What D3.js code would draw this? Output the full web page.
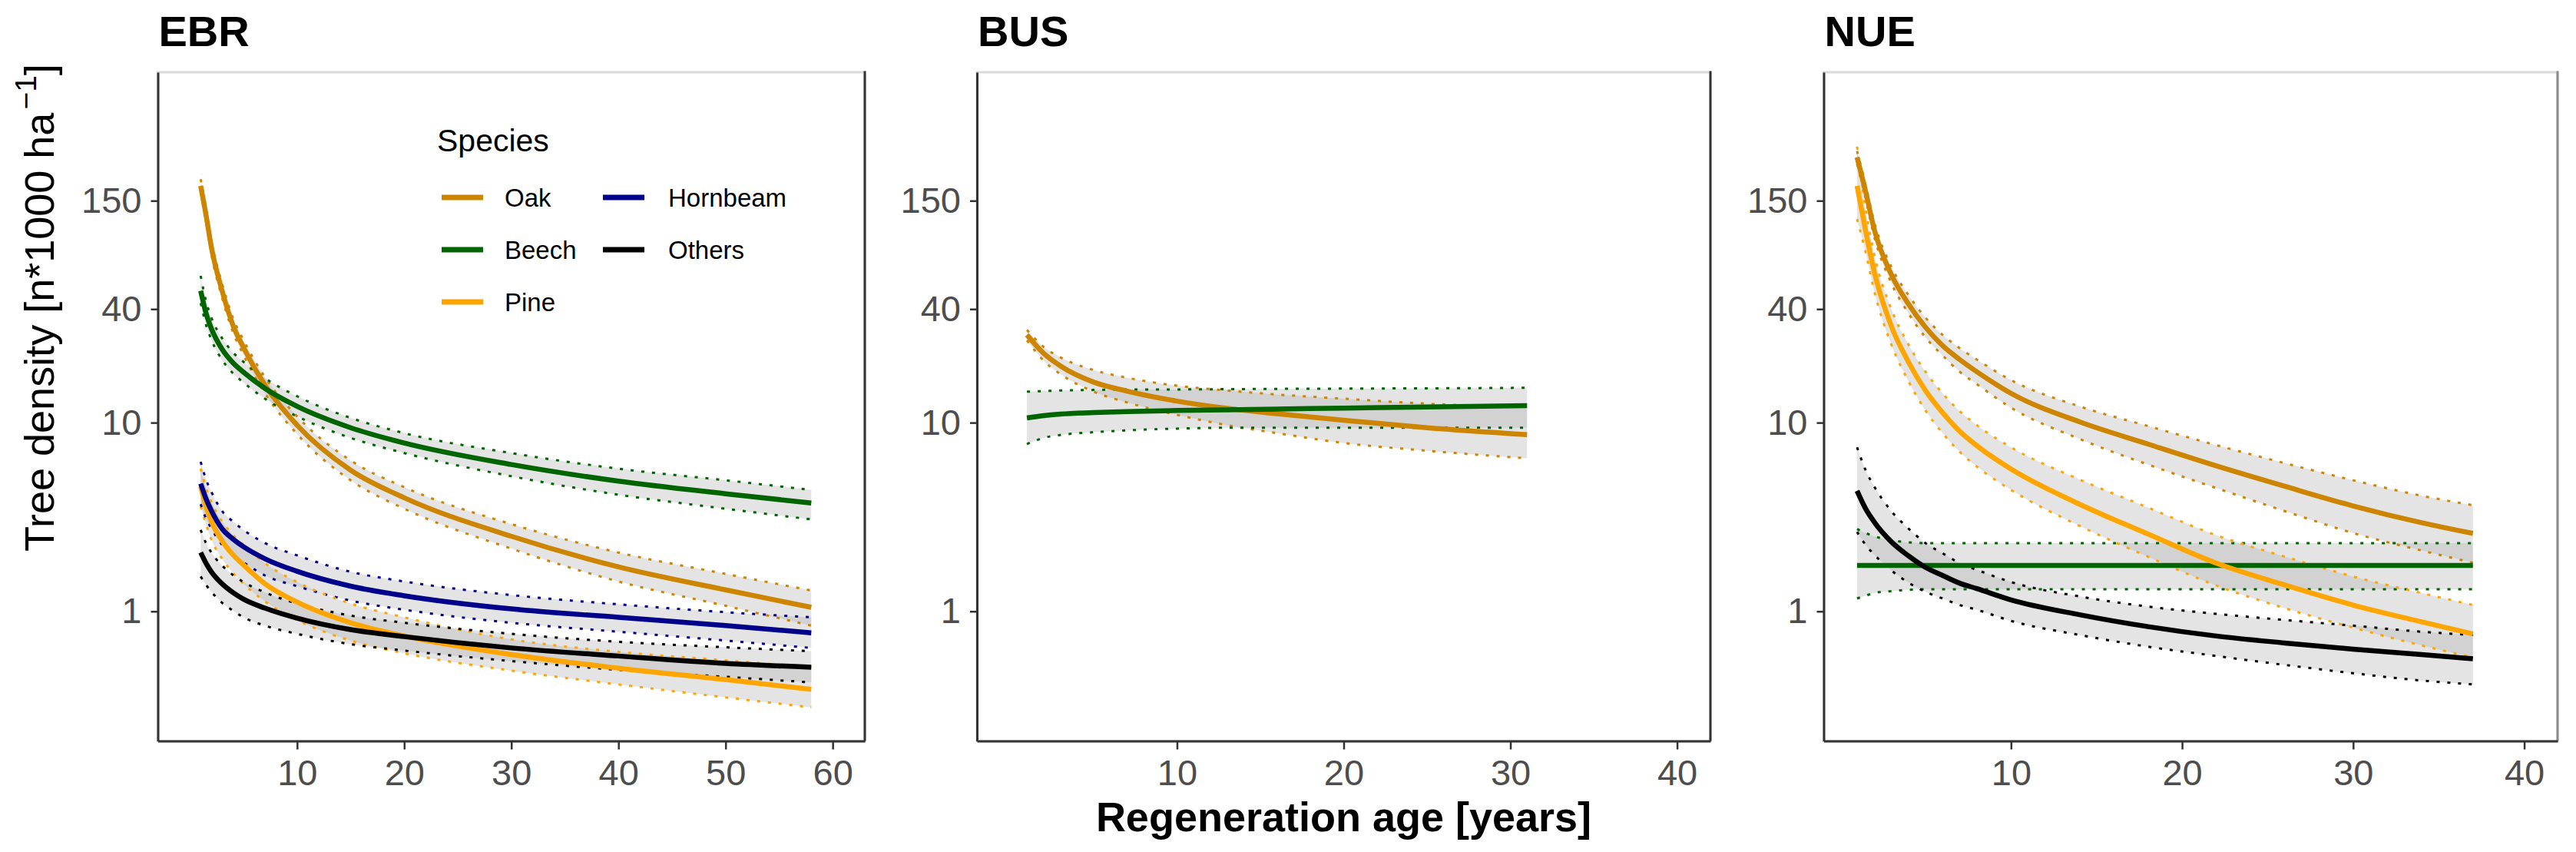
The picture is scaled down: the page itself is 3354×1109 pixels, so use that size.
<!DOCTYPE html>
<html>
<head>
<meta charset="utf-8">
<script src="https://cdn.jsdelivr.net/npm/d3@7"></script>
<style>
  body { margin: 0; background: #fff; }
  text { font-family: "Liberation Sans", Arial, sans-serif; }
</style>
</head>
<body>
<div id="chart"></div>
<script>
// size of the whole figure
var w = 3354;
var h = 1109;

// species and their colours
var species = ["Oak", "Beech", "Pine", "Hornbeam", "Others"];
var speciesColors = ["#CD8500", "#006400", "#FFA500", "#00008B", "#000000"];

// tick labels
var yTicks = [1, 10, 40, 150];
var ebrTicks = [10, 20, 30, 40, 50, 60];
var busTicks = [10, 20, 30, 40];
var nueTicks = [10, 20, 30, 40];

// EBR: regeneration age and fitted density with confidence limits
var ebrAge = [1, 1.5, 2, 3, 4, 5, 7, 10, 15, 20, 30, 40, 50, 58];
var ebrOak = [180, 126, 85, 50, 33, 25, 15.8, 9.7, 5.6, 4.0, 2.5, 1.72, 1.3, 1.05];
var ebrOakLo = [166, 116, 78, 46, 30.3, 22.8, 14.3, 8.7, 4.95, 3.5, 2.15, 1.44, 1.07, 0.84];
var ebrOakHi = [195, 137, 92, 54.5, 36, 27.4, 17.4, 10.8, 6.3, 4.55, 2.9, 2.05, 1.58, 1.29];
var ebrBeech = [50, 38, 31.5, 24.5, 20.8, 18.5, 15.2, 12.2, 9.4, 7.8, 6.0, 4.9, 4.2, 3.75];
var ebrBeechLo = [43, 33, 27.5, 21.5, 18.3, 16.3, 13.4, 10.8, 8.3, 6.9, 5.2, 4.15, 3.5, 3.07];
var ebrBeechHi = [60, 44, 36, 28, 23.6, 21, 17.2, 13.8, 10.6, 8.8, 6.9, 5.7, 4.95, 4.4];
var ebrPine = [4.6, 3.6, 3.0, 2.36, 2.0, 1.76, 1.4, 1.12, 0.87, 0.74, 0.59, 0.50, 0.435, 0.386];
var ebrPineLo = [3.6, 2.9, 2.4, 1.9, 1.6, 1.4, 1.13, 0.9, 0.7, 0.6, 0.485, 0.41, 0.35, 0.31];
var ebrPineHi = [5.7, 4.5, 3.8, 3.0, 2.55, 2.25, 1.8, 1.43, 1.1, 0.93, 0.71, 0.61, 0.55, 0.506];
var ebrHornbeam = [4.75, 3.95, 3.42, 2.74, 2.42, 2.2, 1.9, 1.63, 1.36, 1.21, 1.03, 0.93, 0.84, 0.77];
var ebrHornbeamLo = [3.7, 3.1, 2.75, 2.25, 2.0, 1.82, 1.55, 1.36, 1.14, 1.02, 0.87, 0.78, 0.70, 0.64];
var ebrHornbeamHi = [6.2, 5.0, 4.3, 3.4, 3.0, 2.7, 2.3, 1.98, 1.62, 1.44, 1.22, 1.09, 0.99, 0.93];
var ebrOthers = [2.05, 1.8, 1.62, 1.4, 1.26, 1.16, 1.04, 0.92, 0.8, 0.735, 0.64, 0.58, 0.53, 0.506];
var ebrOthersLo = [1.53, 1.38, 1.27, 1.11, 1.01, 0.93, 0.84, 0.76, 0.67, 0.62, 0.545, 0.49, 0.45, 0.42];
var ebrOthersHi = [2.7, 2.3, 2.05, 1.75, 1.56, 1.43, 1.26, 1.1, 0.95, 0.87, 0.76, 0.69, 0.645, 0.615];

// BUS
var busAge = [1, 2, 3, 5, 7, 10, 13, 16, 20, 25, 31];
var busOak = [29.2, 23.3, 20.0, 16.4, 14.7, 13.0, 11.9, 11.15, 10.3, 9.4, 8.64];
var busOakLo = [27.3, 21.3, 18.1, 14.6, 12.8, 11.0, 9.7, 8.8, 7.8, 7.1, 6.47];
var busOakHi = [31, 25.2, 22.2, 19.0, 17.3, 15.7, 14.8, 14.1, 13.4, 12.6, 12.1];
var busBeech = [10.6, 10.9, 11.1, 11.3, 11.45, 11.6, 11.7, 11.8, 11.95, 12.1, 12.3];
var busBeechLo = [7.7, 8.3, 8.6, 8.9, 9.1, 9.3, 9.4, 9.4, 9.4, 9.4, 9.4];
var busBeechHi = [14.6, 14.7, 14.8, 14.9, 15.0, 15.0, 15.05, 15.1, 15.15, 15.2, 15.3];

// NUE
var nueAge = [1, 1.5, 2, 3, 4, 5, 6, 7, 8, 10, 14, 18, 22, 26, 30, 34, 37];
var nueOak = [255, 168, 106, 61, 42.6, 32, 25.6, 21.6, 18.6, 14.3, 10.1, 7.7, 5.9, 4.6, 3.62, 2.95, 2.59];
var nueOakLo = [235, 154, 97, 55, 38, 28.3, 22.7, 18.6, 16.0, 12.0, 8.2, 6.0, 4.5, 3.4, 2.6, 2.1, 1.81];
var nueOakHi = [275, 182, 116, 67, 47.5, 36, 29.2, 24.8, 21.6, 16.8, 12.2, 9.6, 7.6, 6.1, 4.95, 4.1, 3.65];
var nueBeech = [1.75, 1.75, 1.75, 1.75, 1.75, 1.75, 1.75, 1.75, 1.75, 1.75, 1.75, 1.75, 1.75, 1.75, 1.75, 1.75, 1.75];
var nueBeechLo = [1.17, 1.21, 1.25, 1.28, 1.3, 1.31, 1.31, 1.31, 1.31, 1.31, 1.31, 1.31, 1.31, 1.31, 1.31, 1.31, 1.31];
var nueBeechHi = [2.73, 2.6, 2.5, 2.38, 2.32, 2.3, 2.3, 2.3, 2.3, 2.3, 2.3, 2.3, 2.3, 2.3, 2.3, 2.3, 2.3];
var nuePine = [180, 104, 63.3, 32.5, 21, 14.8, 11.3, 9.0, 7.55, 5.68, 3.7, 2.57, 1.8, 1.38, 1.08, 0.88, 0.76];
var nuePineLo = [120, 80, 50, 26, 16.6, 11.6, 8.8, 7.0, 5.85, 4.4, 2.84, 1.95, 1.37, 1.04, 0.82, 0.66, 0.57];
var nuePineHi = [290, 135, 78, 40, 26, 18.6, 14.3, 11.5, 9.7, 7.4, 5.0, 3.55, 2.53, 1.95, 1.53, 1.25, 1.08];
var nueOthers = [4.35, 3.5, 2.98, 2.34, 1.97, 1.71, 1.55, 1.41, 1.32, 1.15, 0.96, 0.83, 0.74, 0.68, 0.63, 0.59, 0.56];
var nueOthersLo = [2.64, 2.25, 2.0, 1.65, 1.42, 1.27, 1.17, 1.08, 1.02, 0.89, 0.75, 0.65, 0.58, 0.52, 0.47, 0.43, 0.41];
var nueOthersHi = [7.4, 5.6, 4.6, 3.4, 2.75, 2.3, 2.03, 1.8, 1.66, 1.43, 1.2, 1.06, 0.97, 0.9, 0.84, 0.78, 0.75];

// panel layout (pixels) and their series
var panelTop = 94;
var panelBottom = 964.5;
var panels = [
  { name: "EBR", left: 205.5, right: 1126, xDomain: [-3, 63], ticks: ebrTicks, age: ebrAge, rightColor: "#333333",
    series: [
      { sp: "Oak", fit: ebrOak, lo: ebrOakLo, hi: ebrOakHi },
      { sp: "Beech", fit: ebrBeech, lo: ebrBeechLo, hi: ebrBeechHi },
      { sp: "Pine", fit: ebrPine, lo: ebrPineLo, hi: ebrPineHi },
      { sp: "Hornbeam", fit: ebrHornbeam, lo: ebrHornbeamLo, hi: ebrHornbeamHi },
      { sp: "Others", fit: ebrOthers, lo: ebrOthersLo, hi: ebrOthersHi }
    ] },
  { name: "BUS", left: 1272, right: 2227, xDomain: [-2, 42], ticks: busTicks, age: busAge, rightColor: "#333333",
    series: [
      { sp: "Oak", fit: busOak, lo: busOakLo, hi: busOakHi },
      { sp: "Beech", fit: busBeech, lo: busBeechLo, hi: busBeechHi }
    ] },
  { name: "NUE", left: 2374.5, right: 3330, xDomain: [-0.95, 41.95], ticks: nueTicks, age: nueAge, rightColor: "#8c8c8c",
    series: [
      { sp: "Oak", fit: nueOak, lo: nueOakLo, hi: nueOakHi },
      { sp: "Beech", fit: nueBeech, lo: nueBeechLo, hi: nueBeechHi },
      { sp: "Pine", fit: nuePine, lo: nuePineLo, hi: nuePineHi },
      { sp: "Others", fit: nueOthers, lo: nueOthersLo, hi: nueOthersHi }
    ] }
];

var color = d3.scaleOrdinal().domain(species).range(speciesColors);

// shared log y scale
var yScale = d3.scaleLog()
  .domain([0.2056, 719.5])
  .range([panelBottom, panelTop]);

var svg = d3.select("#chart").append("svg")
  .attr("width", w)
  .attr("height", h)
  .style("background", "#fff");

panels.forEach(function(p) {
  var xScale = d3.scaleLinear().domain(p.xDomain).range([p.left, p.right]);
  var g = svg.append("g");

  // light frame round the panel
  g.append("rect")
    .attr("x", p.left)
    .attr("y", panelTop)
    .attr("width", p.right - p.left)
    .attr("height", panelBottom - panelTop)
    .attr("fill", "none")
    .attr("stroke", "#d9d9d9")
    .attr("stroke-width", 3);

  var rows = p.series.map(function(s) {
    return {
      sp: s.sp,
      pts: p.age.map(function(a, i) { return { a: a, fit: s.fit[i], lo: s.lo[i], hi: s.hi[i] }; })
    };
  });

  var band = d3.area()
    .x(function(d) { return xScale(d.a); })
    .y0(function(d) { return yScale(d.lo); })
    .y1(function(d) { return yScale(d.hi); })
    .curve(d3.curveMonotoneX);

  var lineOf = function(key) {
    return d3.line()
      .x(function(d) { return xScale(d.a); })
      .y(function(d) { return yScale(d[key]); })
      .curve(d3.curveMonotoneX);
  };

  // confidence bands
  g.selectAll(".band")
    .data(rows)
    .enter()
    .append("path")
    .attr("class", "band")
    .attr("d", function(d) { return band(d.pts); })
    .attr("fill", "#b3b3b3")
    .attr("fill-opacity", 0.35);

  // dotted limits
  ["lo", "hi"].forEach(function(key) {
    g.selectAll(".lim-" + key)
      .data(rows)
      .enter()
      .append("path")
      .attr("class", "lim-" + key)
      .attr("d", function(d) { return lineOf(key)(d.pts); })
      .attr("fill", "none")
      .attr("stroke", function(d) { return color(d.sp); })
      .attr("stroke-width", 3)
      .attr("stroke-dasharray", "4,10");
  });

  // fitted lines
  g.selectAll(".fit")
    .data(rows)
    .enter()
    .append("path")
    .attr("class", "fit")
    .attr("d", function(d) { return lineOf("fit")(d.pts); })
    .attr("fill", "none")
    .attr("stroke", function(d) { return color(d.sp); })
    .attr("stroke-width", 6.5);

  // right border
  g.append("line")
    .attr("x1", p.right).attr("x2", p.right)
    .attr("y1", panelTop - 1.5).attr("y2", panelBottom)
    .attr("stroke", p.rightColor)
    .attr("stroke-width", 3);

  // axes
  var yAxis = d3.axisLeft(yScale)
    .tickValues(yTicks)
    .tickFormat(d3.format("d"))
    .tickSize(9)
    .tickPadding(12)
    .tickSizeOuter(0);
  var ya = g.append("g")
    .attr("transform", "translate(" + p.left + ",0)")
    .call(yAxis);

  var xAxis = d3.axisBottom(xScale)
    .tickValues(p.ticks)
    .tickSize(11)
    .tickPadding(13)
    .tickSizeOuter(0);
  var xa = g.append("g")
    .attr("transform", "translate(0," + panelBottom + ")")
    .call(xAxis);

  [ya, xa].forEach(function(a) {
    a.select(".domain").attr("stroke", "#333333").attr("stroke-width", 3);
    a.selectAll(".tick line").attr("stroke", "#333333").attr("stroke-width", 2.5);
    a.selectAll(".tick text")
      .attr("fill", "#4d4d4d")
      .attr("font-size", 47)
      .attr("font-family", "Liberation Sans, Arial, sans-serif");
  });

  // panel title
  svg.append("text")
    .attr("x", p.left + 1)
    .attr("y", 60)
    .attr("font-size", 56)
    .attr("font-weight", "bold")
    .attr("fill", "#000")
    .text(p.name);
});

// y axis label
var yLab = svg.append("text")
  .attr("transform", "translate(70,718) rotate(-90)")
  .attr("font-size", 54)
  .attr("fill", "#000");
yLab.append("tspan").text("Tree density [n*1000 ha");
yLab.append("tspan").attr("font-size", 39).attr("dy", -23).attr("dx", 4).text("\u22121");
yLab.append("tspan").attr("dy", 23).text("]");

// x axis label
svg.append("text")
  .attr("x", 1749.5)
  .attr("y", 1082)
  .attr("text-anchor", "middle")
  .attr("font-size", 54)
  .attr("font-weight", "bold")
  .attr("fill", "#000")
  .text("Regeneration age [years]");

// legend inside EBR panel
var legend = svg.append("g");
legend.append("text")
  .attr("x", 569)
  .attr("y", 197)
  .attr("font-size", 41)
  .attr("fill", "#000")
  .text("Species");

species.forEach(function(s, i) {
  var col = i < 3 ? 0 : 1;
  var row = i < 3 ? i : i - 3;
  var kx = col === 0 ? 575 : 785;
  var tx = col === 0 ? 657 : 870;
  var ky = 257 + row * 68;
  legend.append("line")
    .attr("x1", kx).attr("x2", kx + 54)
    .attr("y1", ky).attr("y2", ky)
    .attr("stroke", color(s))
    .attr("stroke-width", 7);
  legend.append("text")
    .attr("x", tx)
    .attr("y", ky + 12)
    .attr("font-size", 33)
    .attr("fill", "#000")
    .text(s);
});
</script>
</body>
</html>
